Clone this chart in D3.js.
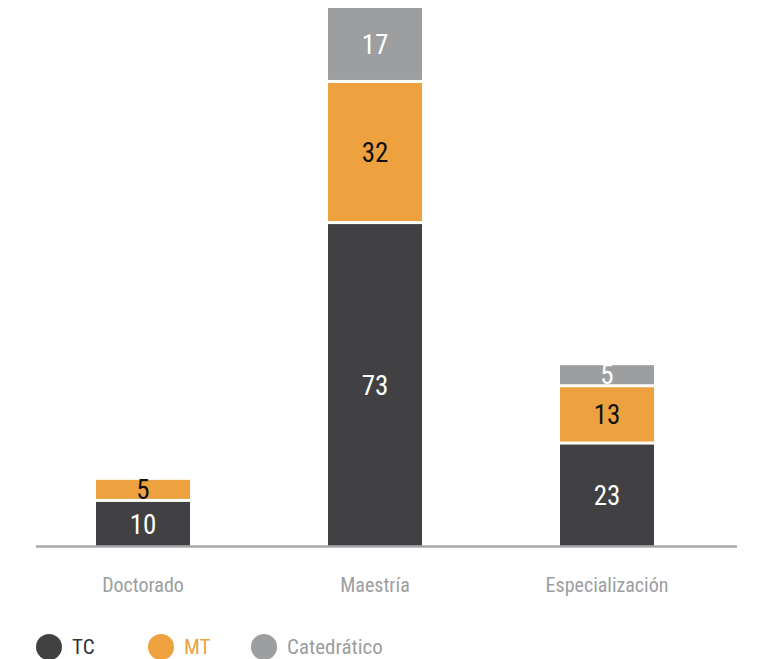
<!DOCTYPE html>
<html>
<head>
<meta charset="utf-8">
<script src="https://cdn.jsdelivr.net/npm/d3@7"></script>
<style>
  html, body { margin: 0; padding: 0; background: #fff; }
  svg { display: block; }
  text { font-family: "Liberation Sans Narrow", "Arial Narrow", "Roboto Condensed", sans-serif; }
</style>
</head>
<body>
<svg id="chart" width="771" height="659"></svg>
<script>
const categories = ["Doctorado", "Maestría", "Especialización"];
const seriesNames = ["TC", "MT", "Catedrático"];
const tcValues = [10, 73, 23];
const mtValues = [5, 32, 13];
const catValues = [0, 17, 5];

const colors = ["#414042", "#EDA23F", "#9C9E9F"];
const labelColors = ["#ffffff", "#111111", "#ffffff"];
const legendTextColors = ["#333333", "#EDA23F", "#9C9E9F"];

const rows = categories.map((c, i) => ({ cat: c, TC: tcValues[i], MT: mtValues[i], "Catedrático": catValues[i] }));
const stacked = d3.stack().keys(seriesNames)(rows);

const svg = d3.select("#chart");
const x = d3.scaleBand().domain(categories).range([26.4, 723.6]).paddingInner(0.5948).paddingOuter(0.3);
const y = d3.scaleLinear().domain([0, 122]).range([546, 8]);
const gap = 3;

const g = svg.append("g");
stacked.forEach((layer, si) => {
  layer.forEach((d, ci) => {
    if (d[1] - d[0] <= 0) return;
    const top = y(d[1]);
    const bottom = y(d[0]) - (si > 0 ? gap : 0);
    const xc = x(categories[ci]);
    g.append("rect")
      .attr("x", xc).attr("y", top)
      .attr("width", x.bandwidth()).attr("height", bottom - top)
      .attr("fill", colors[si]);
    g.append("text")
      .attr("x", xc + x.bandwidth() / 2)
      .attr("y", (top + bottom) / 2)
      .attr("dy", "0.36em")
      .attr("text-anchor", "middle")
      .attr("font-size", 27)
      .attr("fill", labelColors[si])
      .text(d[1] - d[0]);
  });
});

// axis
const axis = d3.axisBottom(x).tickSize(0).tickPadding(0);
const ax = svg.append("g").attr("transform", "translate(0,546)").call(axis);
ax.select(".domain").remove();
svg.append("line").attr("x1", 36).attr("x2", 737).attr("y1", 546.5).attr("y2", 546.5)
  .attr("stroke", "#A7A9AC").attr("stroke-width", 2.5);
ax.selectAll(".tick text")
  .attr("y", 46).attr("dy", 0)
  .attr("font-size", 20)
  .attr("font-family", "'Liberation Sans Narrow', 'Arial Narrow', 'Roboto Condensed', sans-serif")
  .attr("fill", "#9C9E9F");

// legend
const legendX = [49, 161, 264];
const lg = svg.append("g");
seriesNames.forEach((s, i) => {
  lg.append("circle").attr("cx", legendX[i]).attr("cy", 647).attr("r", 13).attr("fill", colors[i]);
  lg.append("text").attr("x", legendX[i] + 23).attr("y", 654)
    .attr("font-size", 21).attr("fill", legendTextColors[i]).text(s);
});
</script>
</body>
</html>
